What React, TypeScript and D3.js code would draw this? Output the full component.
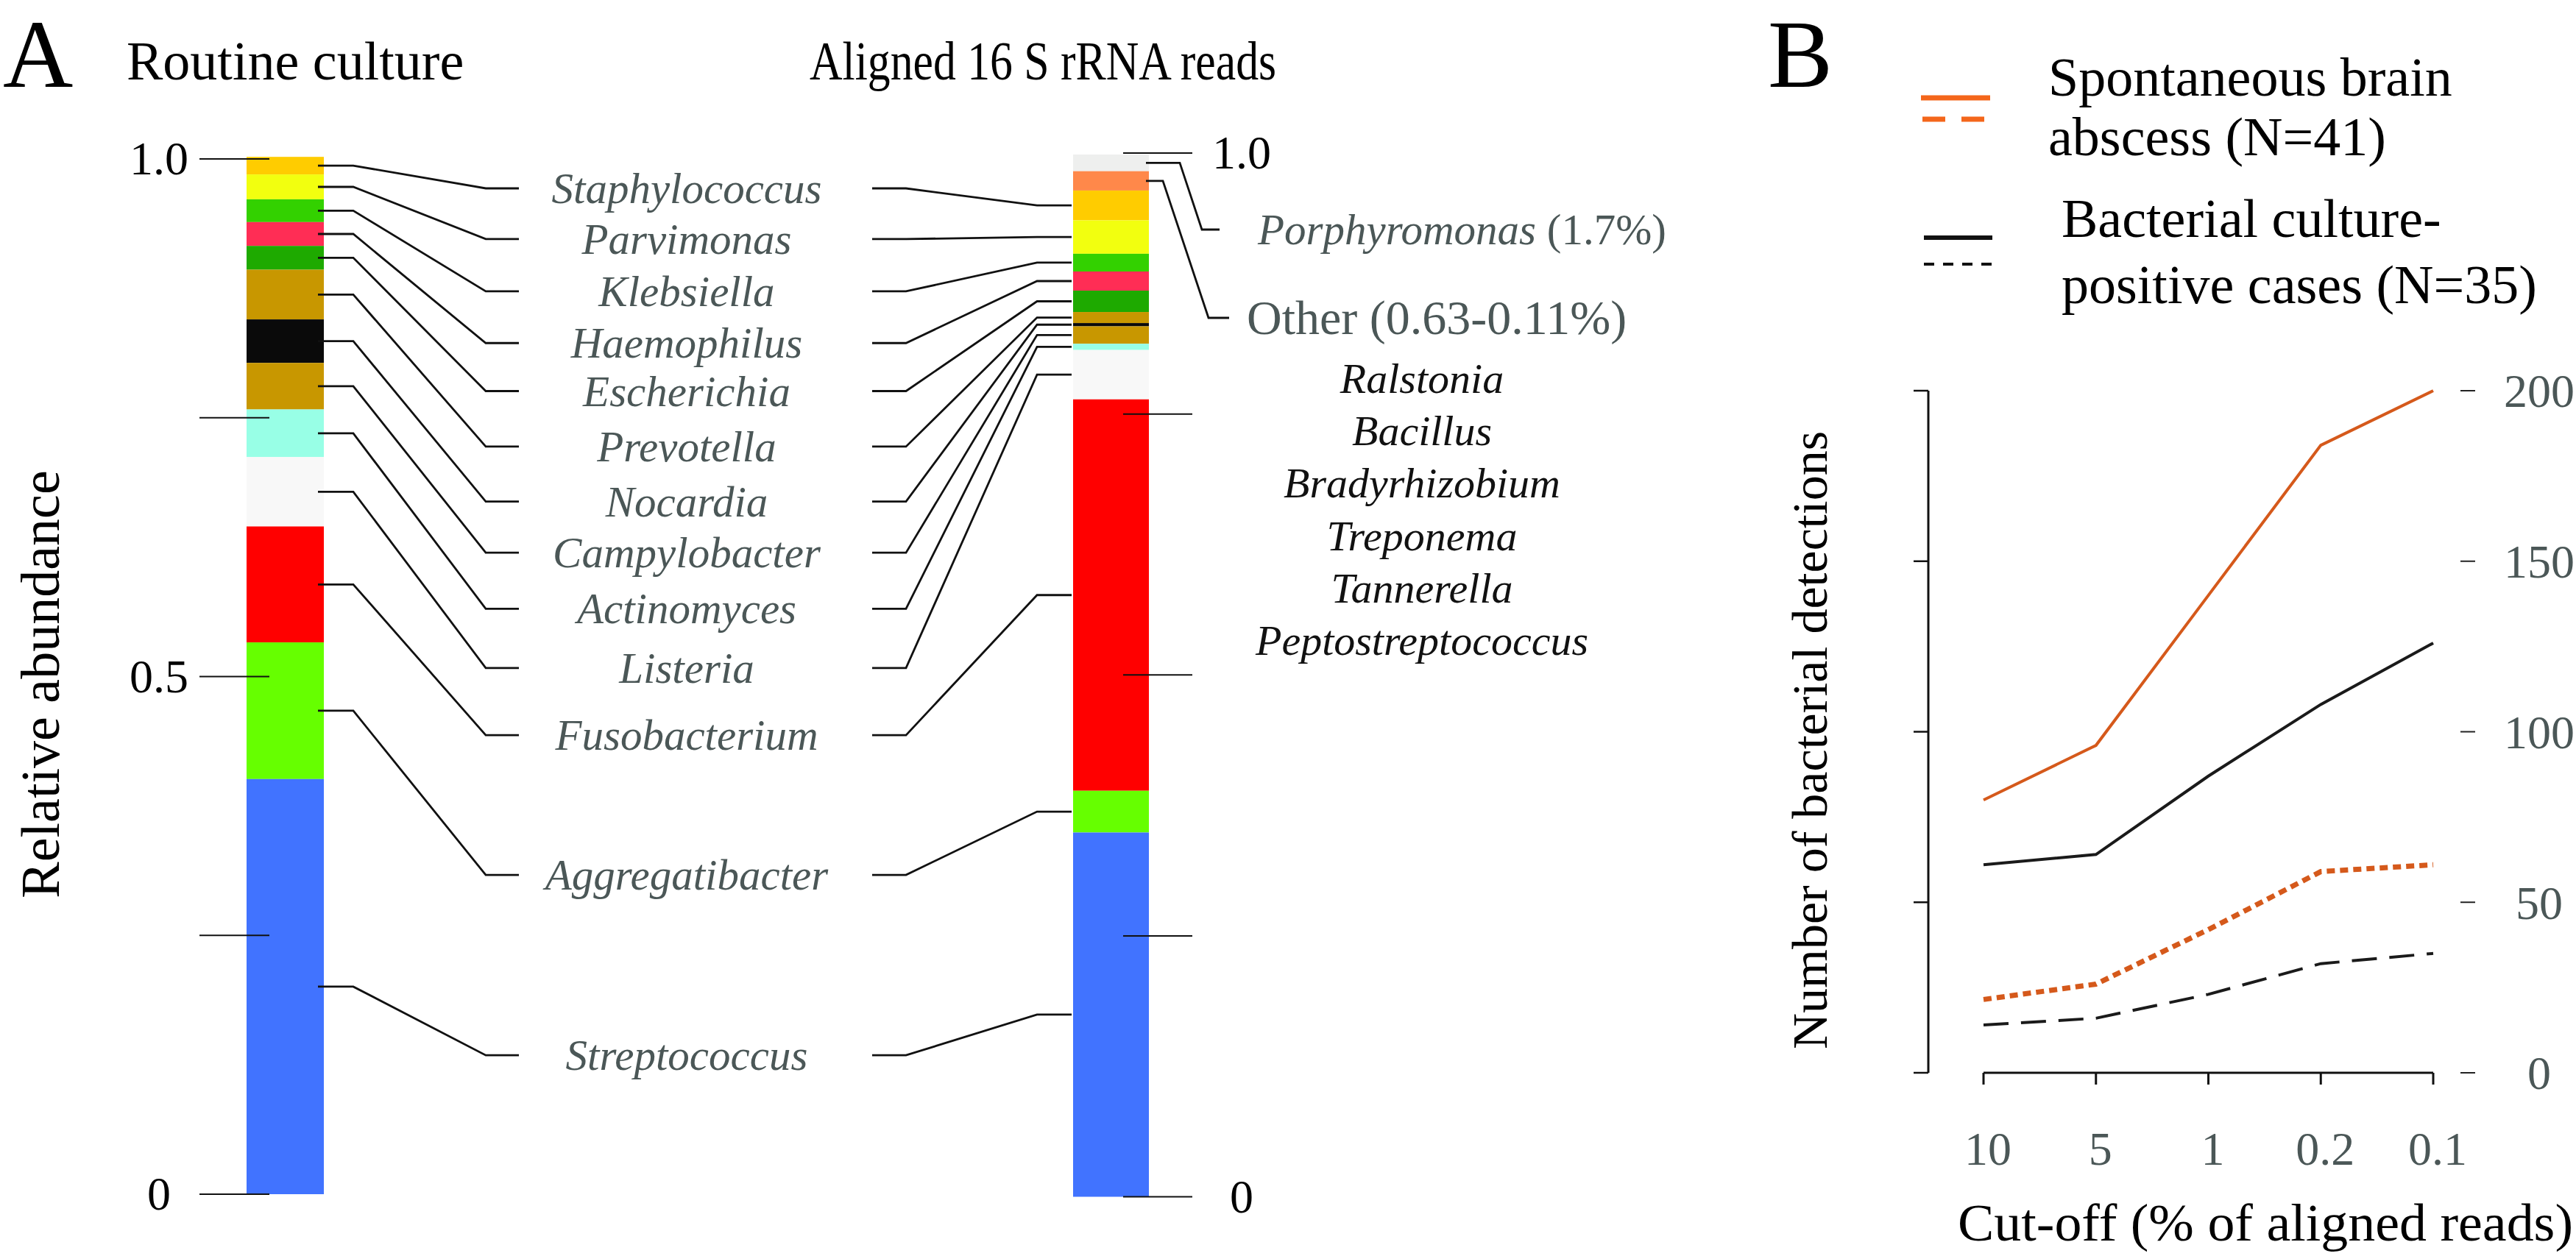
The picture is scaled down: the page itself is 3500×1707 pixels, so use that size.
import React from "react";
import * as d3 from "d3";

// ---------- Panel A data ----------
const GENERA = [
  "Staphylococcus", "Parvimonas", "Klebsiella", "Haemophilus", "Escherichia",
  "Prevotella", "Nocardia", "Campylobacter", "Actinomyces", "Listeria",
  "Fusobacterium", "Aggregatibacter", "Streptococcus",
];
const CULTURE = [0.017, 0.024, 0.022, 0.023, 0.023, 0.048, 0.042, 0.045, 0.046, 0.067, 0.112, 0.132, 0.401];
const READS = [0.0286, 0.032, 0.017, 0.0183, 0.0205, 0.0106, 0.0031, 0.0167, 0.006, 0.0473, 0.375, 0.04, 0.349];
const GENUS_COLORS = [
  "#ffcc00", "#f2ff0f", "#33d100", "#ff2d55", "#1eaa00", "#c89700", "#0a0a0a",
  "#c89700", "#98ffe6", "#f8f8f8", "#ff0000", "#66ff00", "#4173ff",
];
// extra segments at top of reads bar (top-down)
const EXTRA_NAMES = ["Porphyromonas", "Other"];
const EXTRA_VALUES = [0.016, 0.0185];
const EXTRA_COLORS = ["#eeefee", "#ff884a"];
const EXTRA_NOTES = [" (1.7%)", " (0.63-0.11%)"];
const OTHER_GENERA = ["Ralstonia", "Bacillus", "Bradyrhizobium", "Treponema", "Tannerella", "Peptostreptococcus"];
const ABUND_TICKS = [0, 0.25, 0.5, 0.75, 1];
const ABUND_LABELS_LEFT = ["0", "", "0.5", "", "1.0"];
const ABUND_LABELS_RIGHT = ["0", "", "", "", "1.0"];
// label slot positions (layout)
const LABEL_SLOTS = [0, 0.95, 1.93, 2.9, 3.8, 4.84, 5.87, 6.83, 7.88, 8.99, 10.25, 12.87, 16.25];

// ---------- Panel B data ----------
const CUTOFFS = ["10", "5", "1", "0.2", "0.1"];
const SBA_TOTAL = [80, 96, 140, 184, 200];
const CULTPOS_TOTAL = [61, 64, 87, 108, 126];
const SBA_NEW = [21.5, 26, 42, 59, 61];
const CULTPOS_NEW = [14, 16, 23, 32, 35];
const COUNT_TICKS = [0, 50, 100, 150, 200];

const GRAY = "#4b5757";
const ORANGE = "#d5591b";
const ORANGE_LEG = "#f4661b";
const FONT = "'Liberation Serif', 'Times New Roman', serif";

function stackTopDown(vals: number[]) {
  const rev = vals.slice().reverse();
  const cs = Array.from(d3.cumsum(rev));
  return vals.map((v, i) => {
    const j = vals.length - 1 - i;
    return { y0: cs[j] - rev[j], y1: cs[j], v };
  });
}

export default function App() {
  const W = 3500, H = 1707;
  // Panel A scales
  const yL = d3.scaleLinear().domain([0, 1]).range([1623, 216]);
  const yR = d3.scaleLinear().domain([0, 1]).range([1626.5, 208]);
  const labelY = d3.scaleLinear().domain([0, 1]).range([256, 328.5]);
  const barL = { x0: 335, x1: 440 };
  const barR = { x0: 1458, x1: 1561 };

  const cultStack = stackTopDown(CULTURE);
  const readsAll = [...EXTRA_VALUES, ...READS];
  const readsStack = stackTopDown(readsAll);
  const readsColors = [...EXTRA_COLORS, ...GENUS_COLORS];

  // Panel B scales
  const xB = d3.scalePoint<string>().domain(CUTOFFS).range([2695, 3306]);
  const yB = d3.scaleLinear().domain([0, 200]).range([1458, 531]);
  const line = d3.line<number>().x((d, i) => xB(CUTOFFS[i]) as number).y((d) => yB(d));

  const labelCenterX = 933;

  return (
    <svg width={W} height={H} style={{ position: "absolute", left: 0, top: 0, background: "#fff" }} fontFamily={FONT}>
      <rect x={0} y={0} width={W} height={H} fill="#fff" />
      {/* ===== Panel A ===== */}
      <text x={4} y={118} fontSize={132}>A</text>
      <text x={172} y={108} fontSize={74}>Routine culture</text>
      <text x={1100} y={108} fontSize={74} textLength={634} lengthAdjust="spacingAndGlyphs">Aligned 16 S rRNA reads</text>

      {/* left bar */}
      {cultStack.map((s, i) => (
        <rect key={"c" + i} x={barL.x0} width={barL.x1 - barL.x0} y={yL(s.y1)} height={yL(s.y0) - yL(s.y1)} fill={GENUS_COLORS[i]} />
      ))}
      {/* right bar */}
      {readsStack.map((s, i) => (
        <rect key={"r" + i} x={barR.x0} width={barR.x1 - barR.x0} y={yR(s.y1)} height={yR(s.y0) - yR(s.y1)} fill={readsColors[i]} />
      ))}

      {/* left axis ticks */}
      {ABUND_TICKS.map((t, i) => (
        <g key={"lt" + i}>
          <line x1={271} x2={366} y1={yL(t)} y2={yL(t)} stroke="#111" strokeWidth={2} />
          {ABUND_LABELS_LEFT[i] && (
            <text x={216} y={yL(t)} dy="0.33em" textAnchor="middle" fontSize={64}>{ABUND_LABELS_LEFT[i]}</text>
          )}
        </g>
      ))}
      {/* right axis ticks */}
      {ABUND_TICKS.map((t, i) => (
        <g key={"rt" + i}>
          <line x1={1526} x2={1620} y1={yR(t)} y2={yR(t)} stroke="#111" strokeWidth={2} />
          {ABUND_LABELS_RIGHT[i] && (
            <text x={1687} y={yR(t)} dy="0.33em" textAnchor="middle" fontSize={64}>{ABUND_LABELS_RIGHT[i]}</text>
          )}
        </g>
      ))}
      <text transform="translate(80,930) rotate(-90)" textAnchor="middle" fontSize={74}>Relative abundance</text>

      {/* leaders + genus labels */}
      {GENERA.map((g, i) => {
        const ly = labelY(LABEL_SLOTS[i]);
        const cs = cultStack[i];
        const cy = yL((cs.y0 + cs.y1) / 2);
        const rs = readsStack[i + EXTRA_VALUES.length];
        const ry = yR((rs.y0 + rs.y1) / 2);
        return (
          <g key={"g" + i}>
            <path d={`M${barL.x1 - 8},${cy}H480L660,${ly}H705`} fill="none" stroke="#111" strokeWidth={2.8} />
            <path d={`M1185,${ly}H1231L1409,${ry}H${barR.x0 - 2}`} fill="none" stroke="#111" strokeWidth={2.8} />
            <text x={labelCenterX} y={ly} dy="0.34em" textAnchor="middle" fontSize={59} fontStyle="italic" fill={GRAY}>{g}</text>
          </g>
        );
      })}

      {/* extra (top) segments of reads bar */}
      {EXTRA_NAMES.map((n, i) => {
        const s = readsStack[i];
        const sy = yR((s.y0 + s.y1) / 2);
        const ly = i === 0 ? 312 : 432;
        const bend = i === 0 ? 1603 : 1580;
        const diagEnd = i === 0 ? 1633 : 1642;
        const hEnd = i === 0 ? 1657 : 1670;
        const tx = i === 0 ? 1709 : 1694;
        return (
          <g key={"e" + i}>
            <path d={`M${barR.x1 - 4},${sy}H${bend}L${diagEnd},${ly}H${hEnd}`} fill="none" stroke="#111" strokeWidth={2.8} />
            {i === 0 ? (
              <text x={tx} y={ly} dy="0.34em" fontSize={59} fill={GRAY}>
                <tspan fontStyle="italic">{n}</tspan>{EXTRA_NOTES[i]}
              </text>
            ) : (
              <text x={tx} y={ly} dy="0.34em" fontSize={66} fill={GRAY}>{n + EXTRA_NOTES[i]}</text>
            )}
          </g>
        );
      })}
      {OTHER_GENERA.map((g, i) => (
        <text key={"o" + i} x={1932} y={534 + i * 71.2} textAnchor="middle" fontSize={58} fontStyle="italic" fill="#111">{g}</text>
      ))}

      {/* ===== Panel B ===== */}
      <text x={2402} y={118} fontSize={132}>B</text>
      {/* legend */}
      <line x1={2610} x2={2704} y1={133} y2={133} stroke={ORANGE_LEG} strokeWidth={7} />
      <line x1={2612} x2={2698} y1={162} y2={162} stroke={ORANGE_LEG} strokeWidth={7} strokeDasharray="31 22" />
      <text x={2783} y={130} fontSize={74}>Spontaneous brain</text>
      <text x={2783} y={211} fontSize={74}>abscess (N=41)</text>
      <line x1={2614} x2={2707} y1={323} y2={323} stroke="#111" strokeWidth={6} />
      <line x1={2614} x2={2707} y1={359} y2={359} stroke="#111" strokeWidth={4} strokeDasharray="14 12" />
      <text x={2801} y={322} fontSize={74}>Bacterial culture-</text>
      <text x={2801} y={412} fontSize={74}>positive cases (N=35)</text>

      {/* left axis */}
      <line x1={2620} x2={2620} y1={yB(200)} y2={yB(0)} stroke="#111" strokeWidth={3} />
      {COUNT_TICKS.map((t) => (
        <line key={"bl" + t} x1={2600} x2={2620} y1={yB(t)} y2={yB(t)} stroke="#111" strokeWidth={2.5} />
      ))}
      {/* right ticks + labels */}
      {COUNT_TICKS.map((t) => (
        <g key={"br" + t}>
          <line x1={3343} x2={3363} y1={yB(t)} y2={yB(t)} stroke="#222" strokeWidth={2} />
          <text x={3450} y={yB(t)} dy="0.35em" textAnchor="middle" fontSize={64} fill={GRAY}>{t}</text>
        </g>
      ))}
      {/* x axis */}
      <line x1={xB("10")} x2={xB("0.1")} y1={yB(0)} y2={yB(0)} stroke="#111" strokeWidth={3} />
      {CUTOFFS.map((c) => (
        <g key={"x" + c}>
          <line x1={xB(c)} x2={xB(c)} y1={yB(0)} y2={yB(0) + 16} stroke="#111" strokeWidth={3} />
          <text x={(xB(c) as number) + 6} y={1583} textAnchor="middle" fontSize={64} fill={GRAY}>{c}</text>
        </g>
      ))}
      <text x={2660} y={1686} fontSize={72} textLength={836} lengthAdjust="spacingAndGlyphs">Cut-off (% of aligned reads)</text>
      <text transform="translate(2482,1006) rotate(-90)" textAnchor="middle" fontSize={68}>Number of bacterial detections</text>

      {/* series */}
      <path d={line(SBA_TOTAL) || ""} fill="none" stroke={ORANGE} strokeWidth={4} />
      <path d={line(CULTPOS_TOTAL) || ""} fill="none" stroke="#1a1a1a" strokeWidth={4} />
      <path d={line(SBA_NEW) || ""} fill="none" stroke={ORANGE} strokeWidth={7} strokeDasharray="11 7" />
      <path d={line(CULTPOS_NEW) || ""} fill="none" stroke="#1a1a1a" strokeWidth={4} strokeDasharray="34 17" />
    </svg>
  );
}
